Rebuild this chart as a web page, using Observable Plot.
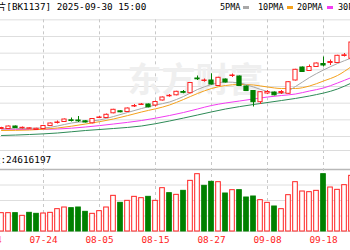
<!DOCTYPE html>
<html><head><meta charset="utf-8">
<script src="https://cdn.jsdelivr.net/npm/d3@7"></script>
<script src="https://cdn.jsdelivr.net/npm/@observablehq/plot@0.6"></script>
<style>
html,body{margin:0;padding:0;background:#fff;}
#wrap{position:relative;width:350px;height:250px;overflow:hidden;background:#fff;}
.t{position:absolute;white-space:pre;font-family:"DejaVu Sans Mono","Noto Sans CJK SC",monospace;color:#000;line-height:1;}
#price{position:absolute;left:0;top:0;width:350px;height:150px;overflow:hidden;}
#vol{position:absolute;left:0;top:150px;width:350px;height:100px;overflow:hidden;}
#volline{position:absolute;left:0;top:150px;width:350px;height:0;border-top:1px solid #dcdcdc;}
.sw{position:absolute;width:6px;height:3px;}
</style></head><body>
<div id="wrap">
  <div id="price"></div>
  <div id="vol"></div>
  <div id="volline"></div>
  <div class="t" style="left:-3px;top:2px;font-size:9.3px">片[BK1137] 2025-09-30 15:00</div>
  <div id="legend"></div>
  <div class="t" style="left:-9px;top:155px;font-size:9.4px">量:24616197</div>
</div>
<script>
// ---- data ----
const dates = ["07-14","07-15","07-16","07-17","07-18","07-21","07-22","07-23","07-24","07-25","07-28","07-29","07-30","07-31","08-01","08-04","08-05","08-06","08-07","08-08","08-11","08-12","08-13","08-14","08-15","08-18","08-19","08-20","08-21","08-22","08-25","08-26","08-27","08-28","08-29","09-01","09-02","09-03","09-04","09-05","09-08","09-09","09-10","09-11","09-12","09-15","09-16","09-17","09-18","09-19","09-22","09-23","09-24"];
const firstCandle = "07-16";
const open  = [1322.5,1322.5,1330,1324.6,1323.1,1319.5,1322.5,1331.5,1340.5,1343.5,1348.6,1348,1345.6,1339.6,1355.5,1355.5,1369.6,1375.6,1373.5,1390,1394.5,1396,1393,1408,1420.6,1423.6,1433.5,1429.9,1474,1466.5,1468,1451.5,1471,1481.5,1480,1450,1436.5,1402.9,1429,1432,1430.5,1428.1,1468,1507,1496.5,1508.5,1517.5,1520.5,1520.5,1541.5,1533.1];
const close = [1325.5,1330,1325.5,1326.1,1324.6,1323.1,1331.5,1339,1342,1351,1346.5,1345.6,1342,1352.5,1357,1365.1,1380.1,1372.6,1384,1391.5,1396,1387.6,1403.5,1417,1422.1,1434.1,1431.1,1460.5,1471.6,1468,1456,1476.1,1462,1483,1451.5,1436.5,1402.9,1432.9,1433.5,1423.6,1433.5,1462.9,1500.1,1493.5,1508.5,1519,1513,1523.5,1542.1,1543.6,1582];
const high  = [1327.6,1331.5,1331.5,1328.5,1326.1,1324.6,1333,1340.5,1346.5,1352.5,1355.5,1360,1347.1,1354,1360,1367.5,1381.6,1377.1,1385.5,1396,1399,1397.5,1406.5,1418.5,1426,1435.6,1438,1462,1481.5,1472.5,1488.1,1477.6,1472.5,1487.5,1481.5,1451.5,1438,1434.4,1438,1433.5,1438,1464.4,1501.6,1508.5,1514.5,1520.5,1538.5,1529.5,1543.6,1549,1583.5];
const low   = [1321,1321,1324,1322.5,1321.6,1318,1321,1330,1337.5,1342,1343.5,1342,1340.5,1338.1,1354,1354,1368.1,1371.1,1372,1387,1393,1386.1,1388.5,1406.5,1417.9,1422.1,1428.1,1428.4,1468,1462.9,1454.5,1450,1460.5,1477,1450,1435,1388.5,1396,1426,1422.1,1426,1426.6,1466.5,1492,1495,1507,1508.5,1513,1519,1538.5,1531.6];
const volume = [1183,1183,1183,1011,1204,1140,1161,1204,1441,1548,1505,1548,1269,1140,1312,1548,2301,1849,1978,2236,2150,2236,1978,2795,2473,2365,2623,3268,3698,2946,3204,3182,2451,2666,2666,2193,2258,2021,1849,1613,1441,2344,3182,2580,2537,2623,3698,2838,2688,2989,3591];
const volUp = [1,1,0,1,0,0,1,1,1,1,0,0,0,1,1,1,1,0,1,1,1,0,1,1,0,1,0,1,1,0,0,1,0,1,0,0,0,1,1,0,1,1,1,1,1,1,0,1,1,1,1];
const ma5Dates = ["07-16","07-18","07-22","07-24","07-28","07-30","08-01","08-05","08-07","08-11","08-13","08-15","08-19","08-21","08-25","08-27","08-29","09-02","09-04","09-08","09-10","09-12","09-16","09-18","09-22","09-24"];
const ma5 = [1322.5,1324,1324.6,1325.5,1331.5,1340.5,1345,1349.5,1360,1372,1384,1394.5,1403.5,1420,1441,1456,1463.5,1460.5,1448.5,1435,1429,1450,1477,1499.5,1519,1535.5];
const ma10Dates = ["07-16","07-22","07-28","08-01","08-07","08-13","08-19","08-21","08-25","08-27","08-29","09-02","09-04","09-08","09-10","09-12","09-16","09-18","09-22","09-24"];
const ma10 = [1318,1319.5,1325.5,1337.5,1352.5,1373.5,1394.5,1411,1429,1444,1453,1456,1454.5,1448.5,1444,1444,1451.5,1466.5,1483,1510];
const ma20Dates = ma10Dates;
const ma20 = [1322.5,1321,1322.5,1328.5,1337.5,1348,1363,1372,1382.5,1393,1400.5,1406.5,1412.5,1418.5,1423,1427.5,1436.5,1445.5,1460.5,1477];
const ma30Dates = ["07-16","07-22","07-28","08-01","08-07","08-13","08-19","08-25","08-29","09-04","09-10","09-16","09-22","09-24"];
const ma30 = [1303,1306,1310.5,1318,1324,1331.5,1346.5,1364.5,1382.5,1396,1408,1421.5,1442.5,1460.5];
const tickLabels = ["07-14","07-24","08-05","08-15","08-27","09-08","09-18"];
const priceGrid = [1300,1350,1400,1450,1500,1550,1600,1650];
const volGrid = [1000,2000,3000];
const volTop = 4000;
const maNames = ["5PMA","10PMA","20PMA","30PMA"];
const maColors = ["#a8a8a8","#f5a21c","#f23cf2","#2e8b57"];
const UP = "#f22", DOWN = "#008000";

// ---- derived tables ----
const idx = d => dates.indexOf(d);
const k0 = idx(firstCandle);
const candles = open.map((o, i) => ({k: k0 + i, o, c: close[i], h: high[i], l: low[i], up: close[i] >= o}));
const vols = volume.map((v, i) => ({k: k0 + i, v, up: volUp[i] === 1}));
const maSeries = [[ma5Dates, ma5], [ma10Dates, ma10], [ma20Dates, ma20], [ma30Dates, ma30]]
  .map(([ds, vs], j) => ds.map((d, i) => ({k: idx(d), v: vs[i], s: j})));
const xDomain = [13 / 7, 363 / 7]; // 7px per trading day
const font = {fontFamily: "DejaVu Sans Mono, monospace", fontSize: "9.4px"};

const pricePlot = Plot.plot({
  width: 350, height: 150, margin: 0,
  style: {background: "transparent", ...font},
  x: {domain: xDomain, axis: null},
  y: {domain: [1258, 1708], axis: null},
  marks: [
    Plot.ruleY(priceGrid, {stroke: "#dedede"}),
    Plot.ruleX(tickLabels, {x: idx, y1: priceGrid[priceGrid.length - 1], y2: 1258, stroke: "#c8c8c8", strokeDasharray: "3,3"}),
    Plot.text(["东方财富"], {frameAnchor: "middle", dx: 20, dy: 6, fontSize: 34, fontWeight: "bold", fill: "#efefef", fontFamily: "Noto Sans CJK SC"}),
    ...[3, 2, 1, 0].map(j => Plot.line(maSeries[j], {x: "k", y: "v", stroke: maColors[j], strokeWidth: 1, curve: "monotone-x"})),
    Plot.ruleX(candles, {x: "k", y1: "l", y2: "h", stroke: d => d.up ? UP : DOWN}),
    Plot.rect(candles, {x1: d => d.k - 0.3, x2: d => d.k + 0.3, y1: "o", y2: "c", fill: d => d.up ? "#fff" : DOWN, stroke: d => d.up ? UP : DOWN})
  ]
});
document.getElementById("price").append(pricePlot);

const volPlot = Plot.plot({
  width: 350, height: 100, marginTop: 0, marginLeft: 0, marginRight: 0, marginBottom: 19,
  style: {background: "transparent", ...font},
  x: {domain: xDomain, axis: null},
  y: {domain: [0, volTop], range: [81, 19], axis: null},
  marks: [
    Plot.ruleY(volGrid, {stroke: "#dedede"}),
    Plot.ruleY([volTop], {stroke: "#b8b8b8", strokeWidth: 1.5}),
    Plot.ruleY([0], {stroke: "#dedede"}),
    Plot.ruleX(tickLabels, {x: idx, stroke: "#c8c8c8", strokeDasharray: "3,3"}),
    Plot.rect(vols, {x1: d => d.k - 0.33, x2: d => d.k + 0.33, y1: 0, y2: "v", fill: d => d.up ? "#fff" : DOWN, stroke: d => d.up ? UP : DOWN}),
    Plot.axisX(tickLabels.map(idx), {tickFormat: k => dates[k], tickSize: 0, tickPadding: 5, fill: "#f22", label: null})
  ]
});
document.getElementById("vol").append(volPlot);

// legend
const lg = document.getElementById("legend");
const lgText = [220, 258, 297, 338], lgSw = [243, 287, 327, 368];
maNames.forEach((n, j) => {
  const t = document.createElement("div");
  t.className = "t"; t.textContent = n;
  t.style.cssText = `left:${lgText[j]}px;top:3px;font-size:8.5px`;
  lg.append(t);
  const s = document.createElement("div");
  s.className = "sw";
  s.style.cssText = `left:${lgSw[j]}px;top:6px;background:${maColors[j]}`;
  lg.append(s);
});
</script>
</body></html>
